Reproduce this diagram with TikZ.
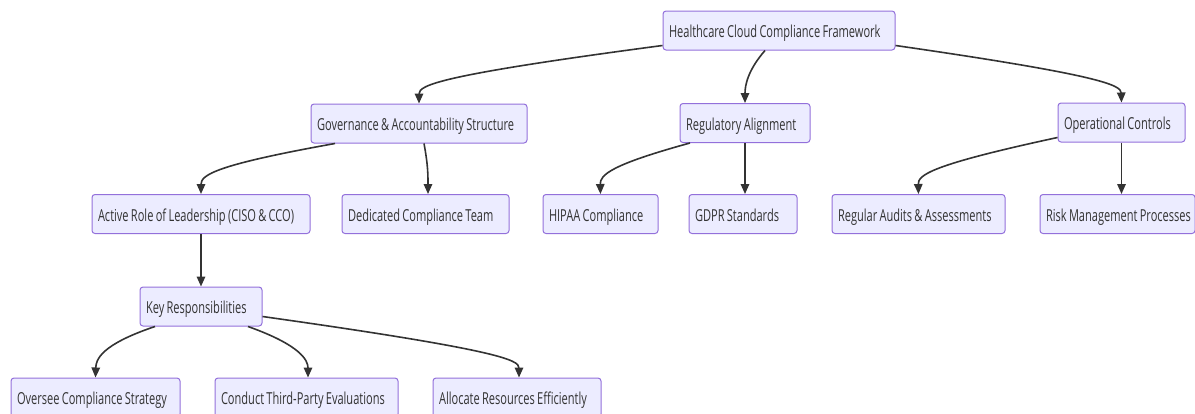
\documentclass[tikz,border=0pt]{standalone}
\usepackage{fontspec}
\setmainfont[FakeStretch=0.67, WordSpace=0.8]{Open Sans}
\usetikzlibrary{arrows.meta}
\definecolor{boxfill}{HTML}{ECECFF}
\definecolor{boxline}{HTML}{9370DB}
\definecolor{ink}{HTML}{333333}
\tikzset{
  box/.style={draw=boxline, fill=boxfill, line width=1pt, rounded corners=3pt,
    minimum height=39pt, inner xsep=6pt, inner ysep=0pt,
    text height=18pt, text depth=4pt,
    text=ink, font=\fontsize{16.5}{19}\selectfont},
  link/.style={draw=ink, line width=1.6pt,
    -{Triangle[length=10pt,width=8.5pt]}},
}
% label set flush left in a fixed-width slot
\newcommand\slot[2]{\makebox[#1][l]{#2}}
\begin{document}
\begin{tikzpicture}[x=1pt,y=-1pt]
\useasboundingbox (0,0) rectangle (1195,413);

% level 0
\node[box] (root) at (779,30.5) {\slot{220pt}{Healthcare Cloud Compliance Framework}};
% level 1
\node[box] (gov) at (419,123.5) {\slot{204pt}{Governance \& Accountability Structure}};
\node[box] (reg) at (745,123) {\slot{118pt}{Regulatory Alignment}};
\node[box] (op) at (1121.5,122.5) {\slot{115pt}{Operational Controls}};
% level 2
\node[box] (lead) at (201,214) {\slot{206pt}{Active Role of Leadership (CISO \& CCO)}};
\node[box] (team) at (425.5,214) {\slot{155pt}{Dedicated Compliance Team}};
\node[box] (hipaa) at (600.5,214) {\slot{103pt}{HIPAA Compliance}};
\node[box] (gdpr) at (743,214) {\slot{96pt}{GDPR Standards}};
\node[box] (audit) at (918.5,214) {\slot{161pt}{Regular Audits \& Assessments}};
\node[box] (risk) at (1117.5,214) {\slot{143pt}{Risk Management Processes}};
% level 3
\node[box] (key) at (201,306.5) {\slot{110pt}{Key Responsibilities}};
% level 4
\node[box] (over) at (95.5,397.5) {\slot{157pt}{Oversee Compliance Strategy}};
\node[box] (cond) at (306.5,397.5) {\slot{171pt}{Conduct Third-Party Evaluations}};
\node[box] (alloc) at (517,397.5) {\slot{156pt}{Allocate Resources Efficiently}};

% connectors
\draw[link] ([yshift=5pt]root.south west) .. controls (440,75) and (419,85) .. (gov.north);
\draw[link] ([xshift=-14pt]root.south) .. controls (748,70) and (745,85) .. (reg.north);
\draw[link] ([yshift=5pt]root.south east) .. controls (1100,75) and (1121,85) .. (op.north);

\draw[link] ([xshift=-84pt]gov.south) .. controls (215,165) and (201,175) .. (lead.north);
\draw[link] ([xshift=5pt]gov.south) .. controls (428,165) and (428,175) .. ([xshift=2.5pt]team.north);

\draw[link] ([xshift=-55pt]reg.south) .. controls (610,165) and (600,175) .. (hipaa.north);
\draw[link] (reg.south) -- (gdpr.north -| reg.south);

\draw[link] ([yshift=5pt]op.south west) .. controls (930,165) and (918,175) .. (audit.north);
\draw[link] (op.south) -- (risk.north -| op.south);

\draw[link] (lead.south) -- (key.north);

\draw[link] ([xshift=-46pt]key.south) .. controls (100,345) and (96,360) .. (over.north);
\draw[link] ([xshift=47pt]key.south) .. controls (300,345) and (308,360) .. ([xshift=1.5pt]cond.north);
\draw[link] ([yshift=10pt]key.south east) .. controls (500,350) and (519,360) .. ([xshift=2pt]alloc.north);
\end{tikzpicture}
\end{document}
